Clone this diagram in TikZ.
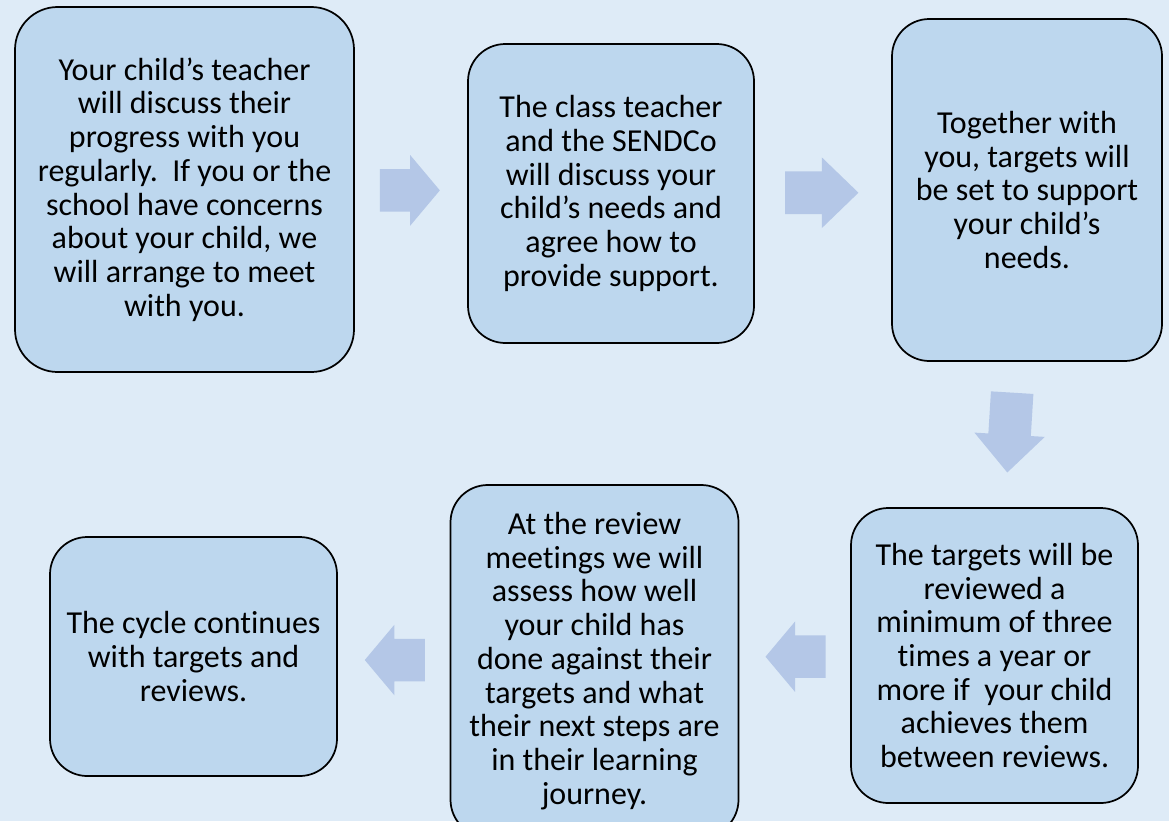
\documentclass[tikz,border=0pt]{standalone}
\usepackage{fontspec}
\setmainfont{Carlito}[Ligatures=NoCommon]
\usetikzlibrary{shapes.arrows,calc}
\definecolor{pageblue}{HTML}{DEEBF7}
\definecolor{boxblue}{HTML}{BDD7EE}
\definecolor{arrowblue}{HTML}{B4C7E7}

\begin{document}
\begin{tikzpicture}[x=0.75pt, y=-0.75pt,
    stage/.style={draw=black, line width=1.3pt, fill=boxblue, rounded corners=28pt,
      align=center, inner sep=0pt, font=\fontsize{24}{25.3}\selectfont},
    flow/.style={single arrow, fill=arrowblue, draw=none, inner xsep=0pt, inner ysep=15.75pt,
      minimum width=52.5pt, single arrow head extend=10.5pt, single arrow tip angle=100, anchor=tail}]
        \clip (0,0) rectangle (1169,821);
        \fill [pageblue] (0,0) rectangle (1169,821);

        % top row
        \node [stage, rounded corners=32pt, minimum width=254.25pt, minimum height=273.75pt] (b1) at (184.5,189.5)
          {Your child’s teacher\\will discuss their\\progress with you\\regularly.\ \ If you or the\\school have concerns\\about your child, we\\will arrange to meet\\with you.};
        \node [stage, minimum width=214.5pt, minimum height=224.25pt] (b2) at (611,193.5)
          {The class teacher\\and the SENDCo\\will discuss your\\child’s needs and\\agree how to\\provide support.};
        \node [stage, minimum width=202.5pt, minimum height=256.5pt] (b3) at (1027,190)
          {Together with\\you, targets will\\be set to support\\your child’s\\needs.};

        % bottom row
        \node [stage, minimum width=215.25pt, minimum height=221.25pt] (b4) at (994.5,655.5)
          {The targets will be\\reviewed a\\minimum of three\\times a year or\\more if\ \ your child\\achieves them\\between reviews.};
        \node [stage, minimum width=216pt, minimum height=264pt] (b5) at (594.5,661)
          {At the review\\meetings we will\\assess how well\\your child has\\done against their\\targets and what\\their next steps are\\in their learning\\journey.};
        \node [stage, minimum width=215.25pt, minimum height=179.25pt] (b6) at (193.5,656.5)
          {The cycle continues\\with targets and\\reviews.};

        % block arrows
        \node [flow, minimum height=45pt] (a12) at ($(b1.east)!0.22!(b2.west)$) {};
        \node [flow, minimum height=55pt, single arrow tip angle=88] (a23) at ($(b2.east)!0.22!(b3.west)$) {};
        \node [flow, minimum height=60pt, single arrow tip angle=86, rotate=-93.5] (a34) at ($(b3.south)!0.21!(b4.north)+(-8,0)$) {};
        \node [flow, minimum height=45pt, rotate=180] (a45) at ($(b4.west)!0.22!(b5.east)$) {};
        \node [flow, minimum height=45pt, rotate=180] (a56) at ($(b5.west)!0.22!(b6.east)$) {};
    \end{tikzpicture}
\end{document}
